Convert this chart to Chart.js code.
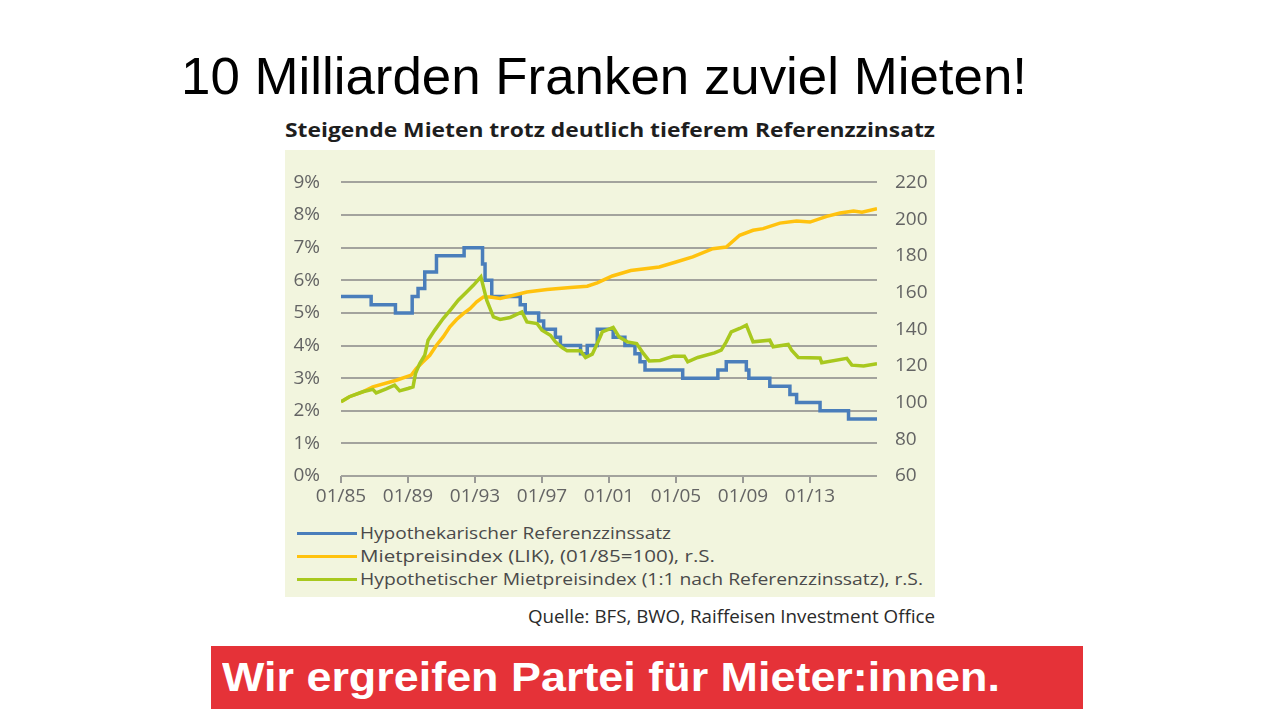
<!DOCTYPE html>
<html>
<head>
<meta charset="utf-8">
<script src="https://cdn.jsdelivr.net/npm/chart.js@4"></script>
<style>
  body { margin: 0; width: 1280px; height: 720px; background: #fff; position: relative; overflow: hidden; }
  .abs { position: absolute; white-space: nowrap; transform-origin: 0 0; }
  #title { left: 181px; top: 50px; font: 52px "Liberation Sans", Arial, sans-serif; line-height: 1; color: #000; }
  #subtitle { left: 285px; top: 121px; font: bold 19px "Open Sans", sans-serif; line-height: 1; color: #1e1e1e; }
  #panel { left: 285px; top: 150px; width: 650px; height: 447px; background: #f2f5de; }
  #chart { position: absolute; left: 285px; top: 150px; }
  .leg { left: 297px; height: 23px; font: 17px "Open Sans", sans-serif; line-height: 23px; color: #4a4a4a; }
  .leg .key { display: inline-block; width: 60px; height: 3px; vertical-align: middle; margin-right: 3px; }
  .leg .txt { display: inline-block; transform-origin: 0 50%; }
  #source { top: 605px; font: 18px "Open Sans", sans-serif; line-height: 23px; color: #2a2a2a; }
  #banner { left: 211px; top: 646px; width: 872px; height: 63px; background: #e53238; }
  #bannerText { left: 222px; top: 646px; font: bold 40px "Liberation Sans", Arial, sans-serif; line-height: 63px; color: #fff; }
</style>
</head>
<body>
<div id="title" class="abs">10 Milliarden Franken zuviel Mieten!</div>
<div id="subtitle" class="abs">Steigende Mieten trotz deutlich tieferem Referenzzinsatz</div>
<div id="panel" class="abs"></div>
<canvas id="chart" width="650" height="365"></canvas>
<div id="legend"></div>
<div id="source" class="abs">Quelle: BFS, BWO, Raiffeisen Investment Office</div>
<div id="banner" class="abs"></div>
<div id="bannerText" class="abs">Wir ergreifen Partei für Mieter:innen.</div>
<script>
// Hypothekarischer Referenzzinssatz (%), level valid from the given date on
const refYears = [1985.0, 1986.8, 1988.25, 1989.25, 1989.6, 1990.0, 1990.7, 1992.35, 1993.45, 1993.6, 1994.0, 1995.7, 1996.0, 1996.8, 1997.1, 1997.8, 1998.1, 1999.3, 1999.7, 2000.3, 2001.25, 2001.95, 2002.55, 2002.85, 2003.15, 2005.4, 2007.5, 2008.0, 2009.2, 2009.35, 2010.6, 2011.8, 2012.2, 2013.6, 2015.3, 2017.0];
const refRates = [5.5, 5.25, 5.0, 5.5, 5.75, 6.25, 6.75, 7.0, 6.5, 6.0, 5.5, 5.25, 5.0, 4.75, 4.5, 4.25, 4.0, 3.75, 4.0, 4.5, 4.25, 4.0, 3.75, 3.5, 3.25, 3.0, 3.25, 3.5, 3.25, 3.0, 2.75, 2.5, 2.25, 2.0, 1.75, 1.75];

// Mietpreisindex (LIK), 01/85 = 100
const likYears = [1985.0, 1985.5, 1986.3, 1986.9, 1988.3, 1989.2, 1989.5, 1989.9, 1990.3, 1990.7, 1991.1, 1991.5, 1991.9, 1992.3, 1992.7, 1993.1, 1993.5, 1993.9, 1994.5, 1995.3, 1996.1, 1997.3, 1998.7, 1999.7, 2000.3, 2001.2, 2002.3, 2004.0, 2005.0, 2006.0, 2007.2, 2008.0, 2008.8, 2009.6, 2010.2, 2011.2, 2012.2, 2013.0, 2014.0, 2014.8, 2015.6, 2016.1, 2017.0];
const likValues = [100.4, 103.2, 105.9, 108.6, 112.2, 115.0, 118.6, 122.2, 125.8, 131.3, 135.8, 141.3, 145.3, 148.5, 151.2, 154.9, 157.6, 157.6, 156.7, 158.5, 160.3, 161.6, 162.7, 163.4, 165.2, 169.0, 172.0, 173.9, 176.6, 179.4, 183.9, 184.8, 191.2, 193.9, 194.8, 197.8, 198.9, 198.4, 201.5, 203.3, 204.4, 203.8, 205.7];

// Hypothetischer Mietpreisindex (1:1 nach Referenzzinssatz)
const hypYears = [1985.0, 1985.5, 1986.3, 1986.9, 1987.1, 1987.7, 1988.2, 1988.5, 1989.0, 1989.3, 1989.45, 1989.7, 1990.0, 1990.2, 1990.6, 1991.1, 1991.6, 1992.0, 1992.5, 1992.9, 1993.35, 1993.7, 1994.1, 1994.5, 1995.1, 1995.8, 1996.1, 1996.7, 1997.0, 1997.5, 1997.8, 1998.2, 1998.5, 1999.3, 1999.6, 2000.0, 2000.3, 2000.6, 2001.25, 2001.6, 2002.1, 2002.65, 2003.05, 2003.4, 2004.05, 2004.85, 2005.5, 2005.7, 2006.3, 2007.3, 2007.7, 2008.0, 2008.3, 2008.8, 2009.2, 2009.6, 2010.6, 2010.8, 2011.7, 2011.9, 2012.3, 2013.6, 2013.7, 2015.2, 2015.5, 2016.2, 2017.0];
const hypValues = [100.4, 103.2, 105.9, 107.2, 105.3, 107.5, 109.5, 106.4, 107.7, 108.6, 115.9, 121.3, 125.8, 134.0, 139.5, 145.8, 151.2, 155.8, 160.3, 163.9, 168.5, 155.8, 146.7, 145.3, 146.4, 149.4, 144.0, 143.1, 139.5, 136.7, 133.1, 130.0, 128.2, 128.2, 124.6, 126.4, 132.2, 138.5, 141.0, 135.8, 133.1, 132.2, 126.8, 122.7, 123.0, 125.3, 125.3, 122.2, 124.6, 127.1, 128.6, 133.1, 138.5, 140.4, 142.2, 133.1, 134.0, 130.4, 131.7, 128.6, 124.6, 124.3, 121.7, 124.1, 120.4, 119.9, 121.2];

const tickYears = [1985, 1989, 1993, 1997, 2001, 2005, 2009, 2013];
const seriesNames = ['Hypothekarischer Referenzzinssatz', 'Mietpreisindex (LIK), (01/85=100), r.S.', 'Hypothetischer Mietpreisindex (1:1 nach Referenzzinssatz), r.S.'];
const seriesColors = ['#4a7ebb', '#ffc20e', '#a8c81e'];
const legendWidths = [311, 355, 563];

function pts(xs, ys) { return xs.map((x, i) => ({ x: x, y: ys[i] })); }

const tickFont = { family: '"Open Sans", sans-serif', size: 19 };
const tickColor = '#646464';

new Chart(document.getElementById('chart'), {
  type: 'line',
  data: {
    datasets: [
      { label: seriesNames[0], data: pts(refYears, refRates), yAxisID: 'y', stepped: true, borderColor: seriesColors[0], borderWidth: 3.5, pointRadius: 0, order: 2 },
      { label: seriesNames[1], data: pts(likYears, likValues), yAxisID: 'y2', borderColor: seriesColors[1], borderWidth: 3.5, pointRadius: 0, order: 1 },
      { label: seriesNames[2], data: pts(hypYears, hypValues), yAxisID: 'y2', borderColor: seriesColors[2], borderWidth: 3.5, pointRadius: 0, order: 0 }
    ]
  },
  options: {
    responsive: false,
    animation: false,
    devicePixelRatio: 1,
    layout: { padding: { top: 31, left: 0, right: 0, bottom: 0 } },
    plugins: { legend: { display: false }, tooltip: { enabled: false } },
    scales: {
      x: {
        type: 'linear', min: 1985, max: 2017,
        afterBuildTicks: (s) => { s.ticks = tickYears.map(v => ({ value: v })); },
        afterFit: (s) => { s.height = 39; },
        grid: { drawOnChartArea: false, drawTicks: true, tickLength: 7, color: '#9a9a96', lineWidth: 2 },
        border: { display: false },
        ticks: { padding: 2, font: tickFont, color: tickColor, maxRotation: 0, callback: (v) => '01/' + String(v).slice(2) }
      },
      y: {
        position: 'left', min: 0, max: 9,
        afterFit: (s) => { s.width = 56; },
        grid: { color: '#a3a39d', lineWidth: 2, drawTicks: false },
        border: { display: false },
        ticks: { stepSize: 1, padding: 21, font: tickFont, color: tickColor, callback: (v) => v + '%' }
      },
      y2: {
        position: 'right', min: 60, max: 220,
        afterFit: (s) => { s.width = 58; },
        grid: { display: false, drawTicks: false },
        border: { display: false },
        ticks: { stepSize: 20, padding: 18, font: tickFont, color: tickColor }
      }
    }
  }
});

// legend as html text rows
const legend = document.getElementById('legend');
seriesNames.forEach((name, i) => {
  const row = document.createElement('div');
  row.className = 'abs leg';
  row.style.top = (532 - 11.5 + i * 23) + 'px';
  row.innerHTML = '<span class="key" style="background:' + seriesColors[i] + '"></span><span class="txt">' + name + '</span>';
  legend.appendChild(row);
  const txt = row.querySelector('.txt');
  txt.style.transform = 'scaleX(' + (legendWidths[i] / txt.getBoundingClientRect().width) + ')';
});

// squeeze text to the widths in the picture
function fit(id, w) {
  const el = document.getElementById(id);
  el.style.transform = 'scaleX(' + (w / el.getBoundingClientRect().width) + ')';
}
fit('title', 846);
fit('subtitle', 650);
fit('bannerText', 778);
fit('source', 407);
document.getElementById('source').style.left = '528px';
</script>
</body>
</html>
